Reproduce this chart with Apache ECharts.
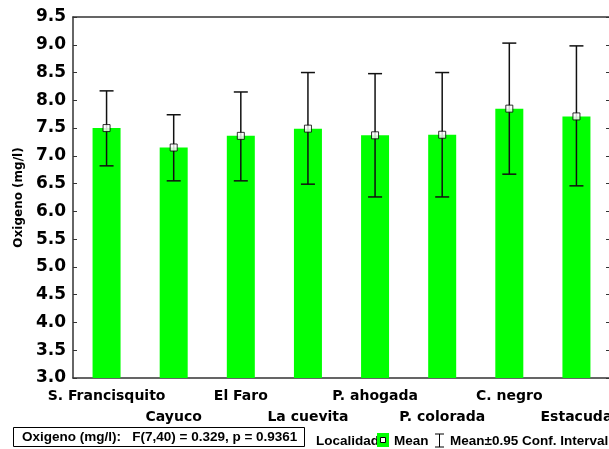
<!DOCTYPE html>
<html><head><meta charset="utf-8">
<script src="https://cdn.jsdelivr.net/npm/echarts@6/dist/echarts.min.js"></script>
<style>html,body{margin:0;padding:0;background:#fff}#c{width:609px;height:449px}</style>
</head><body><div id="c"></div>
<script>
var categories = ['S. Francisquito','Cayuco','El Faro','La cuevita','P. ahogada','P. colorada','C. negro','Estacuda'];
var means = [7.50, 7.15, 7.36, 7.49, 7.37, 7.38, 7.85, 7.71];
var upper = [8.17, 7.74, 8.15, 8.50, 8.48, 8.50, 9.03, 8.98];
var lower = [6.82, 6.55, 6.55, 6.49, 6.26, 6.26, 6.67, 6.46];
var yTicks = ['3.0','3.5','4.0','4.5','5.0','5.5','6.0','6.5','7.0','7.5','8.0','8.5','9.0','9.5'];
var yTitle = 'Oxigeno (mg/l)';
var statText = 'Oxigeno (mg/l):   F(7,40) = 0.329, p = 0.9361';
var legendTitle = 'Localidad';
var legendMean = 'Mean';
var legendCI = 'Mean\u00b10.95 Conf. Interval';

var chart = echarts.init(document.getElementById('c'), null, {renderer:'canvas'});
var errData = categories.map(function(c,i){ return [i, lower[i], upper[i]]; });
var axisCol = '#333';
var legFont = 'bold 13.5px "Liberation Sans", Arial, sans-serif';
var option = {
  animation:false,
  backgroundColor:'#fff',
  grid:{left:73, top:17, width:537, height:361, containLabel:false, outerBoundsMode:'none'},
  xAxis:[{
    type:'category', data:categories, position:'bottom',
    axisLine:{lineStyle:{color:axisCol, width:1.5}},
    axisTick:{inside:true, alignWithLabel:true, length:4, lineStyle:{color:axisCol}},
    axisLabel:{interval:0, margin:8, color:'#000', fontFamily:'DejaVu Sans', fontWeight:'bold', fontSize:14, lineHeight:21,
      hideOverlap:false,
      formatter:function(v){ var i = categories.indexOf(v); return i % 2 ? '\n' + v : v; }}
  },{
    type:'category', data:categories, position:'top',
    axisLine:{lineStyle:{color:axisCol, width:1.5}},
    axisTick:{inside:true, alignWithLabel:true, length:4, lineStyle:{color:axisCol}},
    axisLabel:{show:false}
  }],
  yAxis:[{
    type:'value', min:3, max:9.5, interval:0.5, position:'left',
    name:yTitle, nameLocation:'middle', nameRotate:90, nameGap:48,
    nameTextStyle:{color:'#000', fontFamily:'DejaVu Sans', fontWeight:'bold', fontSize:12},
    axisLine:{show:true, lineStyle:{color:axisCol, width:1.5}},
    axisTick:{show:true, inside:true, length:4, lineStyle:{color:axisCol}},
    splitLine:{show:false},
    axisLabel:{margin:7, color:'#000', fontFamily:'DejaVu Sans', fontWeight:'bold', fontSize:17,
      formatter:function(v){ return yTicks[Math.round((v-3)/0.5)]; }}
  },{
    type:'value', min:3, max:9.5, interval:0.5, position:'right',
    axisLine:{show:true, lineStyle:{color:axisCol, width:1.5}},
    axisTick:{show:true, inside:true, length:4, lineStyle:{color:axisCol}},
    splitLine:{show:false}, axisLabel:{show:false}
  }],
  series:[{
    type:'bar', data:means, barWidth:28, itemStyle:{color:'#00ff00'}, z:1
  },{
    type:'custom', data:errData, z:3,
    renderItem:function(params, api){
      var x = api.value(0);
      var lo = api.coord([x, api.value(1)]);
      var hi = api.coord([x, api.value(2)]);
      var hw = 7;
      var st = {stroke:'#111', lineWidth:1.5};
      return {type:'group', children:[
        {type:'line', shape:{x1:lo[0], y1:lo[1], x2:hi[0], y2:hi[1]}, style:st},
        {type:'line', shape:{x1:lo[0]-hw, y1:lo[1], x2:lo[0]+hw, y2:lo[1]}, style:st},
        {type:'line', shape:{x1:hi[0]-hw, y1:hi[1], x2:hi[0]+hw, y2:hi[1]}, style:st}
      ]};
    }
  },{
    type:'scatter', data:means, symbol:'rect', symbolSize:7, z:5,
    itemStyle:{color:'#fff', borderColor:'#000', borderWidth:1}
  }],
  graphic:[
    {type:'rect', shape:{x:13.5, y:427.5, width:291, height:19}, style:{fill:'#fff', stroke:'#000', lineWidth:1}},
    {type:'text', x:22, y:437.5, style:{text:statText, fill:'#000', font:legFont, verticalAlign:'middle'}},
    {type:'text', x:316, y:441, style:{text:legendTitle, fill:'#000', font:legFont, verticalAlign:'middle'}},
    {type:'rect', shape:{x:377, y:433, width:12, height:14}, style:{fill:'#00ff00'}},
    {type:'rect', shape:{x:380.5, y:437.5, width:5, height:5}, style:{fill:'#fff', stroke:'#000', lineWidth:1}},
    {type:'text', x:394, y:441, style:{text:legendMean, fill:'#000', font:legFont, verticalAlign:'middle'}},
    {type:'line', shape:{x1:439.5, y1:434, x2:439.5, y2:447}, style:{stroke:'#000', lineWidth:1}},
    {type:'line', shape:{x1:435, y1:434, x2:444, y2:434}, style:{stroke:'#000', lineWidth:1}},
    {type:'line', shape:{x1:435, y1:447, x2:444, y2:447}, style:{stroke:'#000', lineWidth:1}},
    {type:'text', x:450, y:441, style:{text:legendCI, fill:'#000', font:legFont, verticalAlign:'middle'}}
  ]
};
chart.setOption(option);
</script>
</body></html>
